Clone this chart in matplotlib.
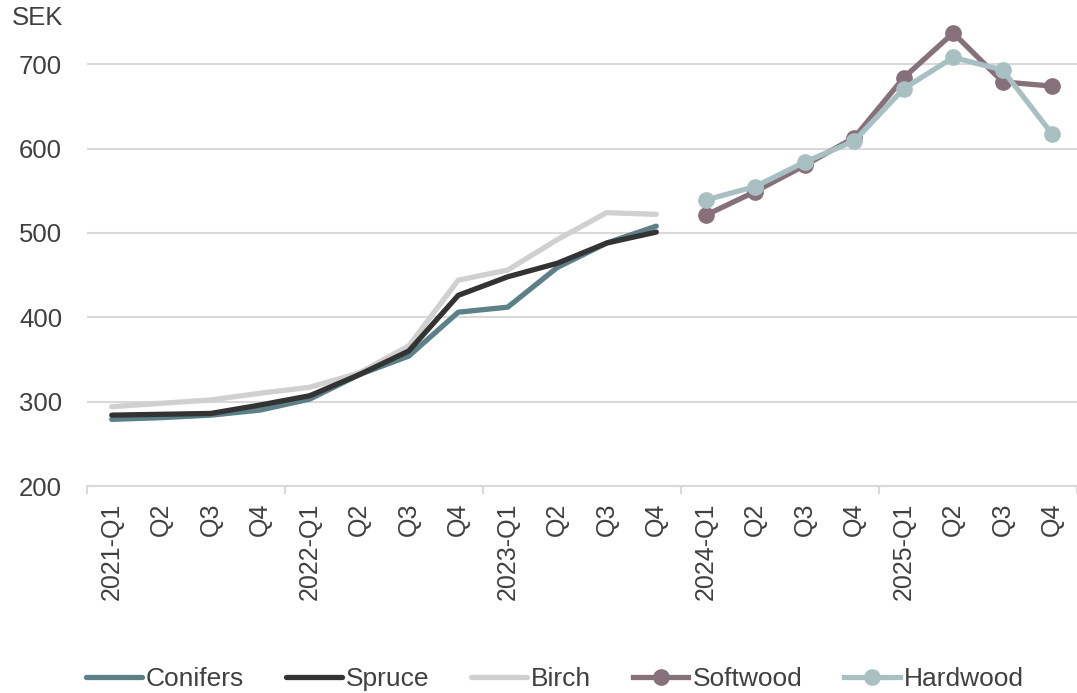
import matplotlib
matplotlib.use('Agg')
import matplotlib.pyplot as plt
import numpy as np

plt.rcParams['font.family'] = ['Liberation Sans', 'DejaVu Sans']

# Quarterly prices (SEK)
quarters = ['2021-Q1', 'Q2', 'Q3', 'Q4',
            '2022-Q1', 'Q2', 'Q3', 'Q4',
            '2023-Q1', 'Q2', 'Q3', 'Q4',
            '2024-Q1', 'Q2', 'Q3', 'Q4',
            '2025-Q1', 'Q2', 'Q3', 'Q4']

conifers = [279, 281, 284, 290, 303, 332, 354, 406, 412, 459, 488, 508]
spruce = [284, 285, 286, 296, 307, 332, 360, 426, 448, 464, 488, 501]
birch = [294, 298, 302, 310, 317, 334, 366, 444, 456, 492, 524, 522]
softwood = [521, 549, 580, 613, 684, 737, 679, 674]
hardwood = [539, 555, 584, 609, 671, 708, 693, 617]

year_bounds = [-0.5, 3.5, 7.5, 11.5, 15.5, 19.5]

text_col = '#404040'
grid_col = '#d9d9d9'

fig = plt.figure(figsize=(10.77, 6.93), dpi=100)
ax = fig.add_axes([87 / 1077, (693 - 486) / 693, 990 / 1077, (486 - 22) / 693])

x = np.arange(len(quarters))
x_old = x[:len(conifers)]
x_new = x[len(conifers):]

ax.plot(x_old, birch, color='#d0d0d0', lw=3.8, label='Birch', zorder=2,
        solid_capstyle='round')
ax.plot(x_old, conifers, color='#5b8087', lw=3.8, label='Conifers', zorder=3,
        solid_capstyle='round')
ax.plot(x_old, spruce, color='#333333', lw=3.8, label='Spruce', zorder=4,
        solid_capstyle='round')
ax.plot(x_new, softwood, color='#86707a', lw=3.8, marker='o', ms=11,
        label='Softwood', zorder=3)
ax.plot(x_new, hardwood, color='#a9c0c3', lw=3.8, marker='o', ms=11,
        label='Hardwood', zorder=4)

ax.set_xlim(-0.5, len(quarters) - 0.5)
ax.set_ylim(200, 750)
ax.set_yticks(np.arange(200, 701, 100))
ax.yaxis.grid(True, color=grid_col, lw=1.5)
ax.set_axisbelow(True)

for s in ['top', 'right', 'left']:
    ax.spines[s].set_visible(False)
ax.spines['bottom'].set_color(grid_col)
ax.spines['bottom'].set_linewidth(1.5)

ax.set_xticks(x)
ax.set_xticklabels(quarters, rotation=90, va='top', ha='center')
ax.set_xticks(year_bounds, minor=True)
ax.tick_params(axis='x', which='major', length=0, pad=12,
               labelsize=18, labelcolor=text_col)
ax.tick_params(axis='x', which='minor', length=5.5, width=1.5, color=grid_col)
ax.tick_params(axis='y', length=0, pad=18, labelsize=18.5, labelcolor=text_col)

fig.text(12 / 1077, 1 - 18 / 693, 'SEK', fontsize=18.5, color=text_col,
         ha='left', va='center')

handles, labels = ax.get_legend_handles_labels()
order = ['Conifers', 'Spruce', 'Birch', 'Softwood', 'Hardwood']
hmap = dict(zip(labels, handles))
fig.legend([hmap[k] for k in order], order, loc='center',
           bbox_to_anchor=(555 / 1077, 1 - 679 / 693), ncol=5, frameon=False,
           fontsize=19, labelcolor=text_col, handlelength=2.1,
           handletextpad=0.15, columnspacing=1.6, borderaxespad=0)

fig.savefig('out.png', dpi=100)
